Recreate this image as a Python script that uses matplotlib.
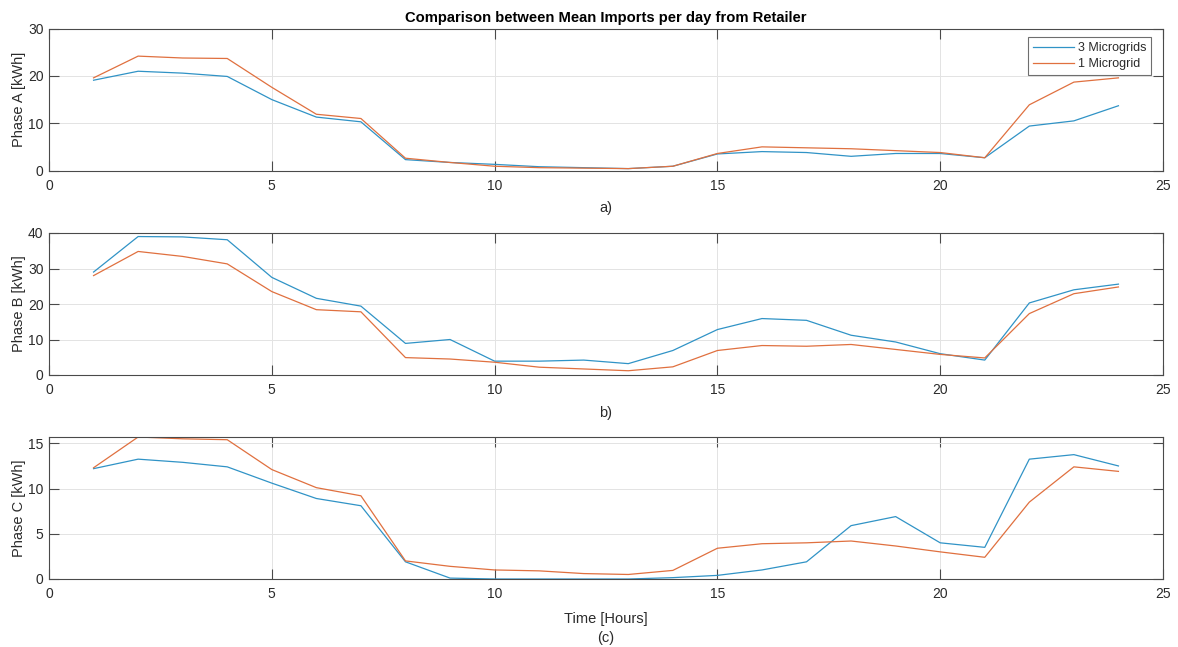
import numpy as np
import matplotlib
matplotlib.use("Agg")
import matplotlib.pyplot as plt

plt.rcParams["font.family"] = ["Liberation Sans", "DejaVu Sans"]

# Hours of the day
hours = np.arange(1, 25)

# Mean imports from retailer per hour [kWh]
phase_a_3mg = [19.1, 21.0, 20.6, 19.9, 15.0, 11.3, 10.3, 2.3, 1.7, 1.3, 0.8, 0.6,
               0.4, 0.9, 3.5, 4.0, 3.8, 3.0, 3.6, 3.6, 2.7, 9.4, 10.5, 13.7]
phase_a_1mg = [19.6, 24.2, 23.8, 23.7, 17.6, 11.9, 11.0, 2.6, 1.7, 0.9, 0.6, 0.5,
               0.4, 0.9, 3.6, 5.0, 4.8, 4.6, 4.2, 3.8, 2.7, 13.9, 18.7, 19.6]
phase_b_3mg = [29.0, 39.0, 38.9, 38.1, 27.5, 21.6, 19.4, 8.9, 10.0, 3.9, 3.9, 4.2,
               3.2, 6.9, 12.8, 15.9, 15.4, 11.2, 9.3, 6.0, 4.2, 20.3, 24.0, 25.6]
phase_b_1mg = [28.0, 34.8, 33.4, 31.3, 23.5, 18.4, 17.8, 4.9, 4.5, 3.6, 2.2, 1.7,
               1.2, 2.3, 6.9, 8.3, 8.1, 8.6, 7.2, 5.8, 4.8, 17.3, 22.9, 24.8]
phase_c_3mg = [12.2, 13.25, 12.9, 12.4, 10.6, 8.9, 8.1, 1.9, 0.1, 0.0, 0.0, 0.0,
               0.0, 0.15, 0.4, 1.0, 1.9, 5.9, 6.9, 4.0, 3.5, 13.25, 13.75, 12.5]
phase_c_1mg = [12.3, 15.7, 15.5, 15.4, 12.1, 10.1, 9.2, 2.0, 1.4, 1.0, 0.9, 0.6,
               0.5, 0.95, 3.4, 3.9, 4.0, 4.2, 3.65, 3.0, 2.4, 8.5, 12.4, 11.9]

series_labels = ["3 Microgrids", "1 Microgrid"]
phase_labels = ["Phase A [kWh]", "Phase B [kWh]", "Phase C [kWh]"]
panel_labels = ["a)", "b)", "Time [Hours]"]
y_limits = [(0, 30), (0, 40), (0, 15.7)]
y_ticks = [[0, 10, 20, 30], [0, 10, 20, 30, 40], [0, 5, 10, 15]]
x_ticks = [0, 5, 10, 15, 20, 25]

blue = "#3093c6"
orange = "#e0703f"
axis_col = "#4a4a4a"
text_col = "#2b2b2b"

W, H = 1178, 647
fig = plt.figure(figsize=(W / 100, H / 100), dpi=100)

# panel boxes in pixels: (top, bottom)
left_px, right_px = 49, 1163
boxes = [(28.7, 170.5), (233, 375), (437, 579)]

data = [(phase_a_3mg, phase_a_1mg), (phase_b_3mg, phase_b_1mg), (phase_c_3mg, phase_c_1mg)]

axes = []
for i, (top, bot) in enumerate(boxes):
    ax = fig.add_axes([left_px / W, 1 - bot / H, (right_px - left_px) / W, (bot - top) / H])
    s3, s1 = data[i]
    ax.plot(hours, s3, color=blue, lw=0.9, label=series_labels[0])
    ax.plot(hours, s1, color=orange, lw=0.9, label=series_labels[1])
    ax.set_xlim(0, 25)
    ax.set_ylim(*y_limits[i])
    ax.set_xticks(x_ticks)
    ax.set_yticks(y_ticks[i])
    ax.grid(True, color="#e3e3e3", lw=0.7)
    ax.set_axisbelow(True)
    for sp in ax.spines.values():
        sp.set_color(axis_col)
        sp.set_linewidth(0.8)
    ax.tick_params(direction="in", length=7.5, width=0.8, color=axis_col,
                   top=True, right=True, labelsize=10, labelcolor=text_col)
    ax.tick_params(axis="y", pad=4)
    ax.tick_params(axis="x", pad=6)
    ax.set_ylabel(phase_labels[i], fontsize=10.5, color=text_col, labelpad=1.5)
    axes.append(ax)

axes[0].set_xlabel(panel_labels[0], fontsize=10.5, color=text_col, labelpad=6)
axes[1].set_xlabel(panel_labels[1], fontsize=10.5, color=text_col, labelpad=6)
axes[2].set_xlabel(panel_labels[2], fontsize=10.5, color=text_col, labelpad=8)
fig.text(606 / W, 1 - 638 / H, "(c)", fontsize=10.5, color=text_col, ha="center", va="center")

axes[0].set_title("Comparison between Mean Imports per day from Retailer",
                  fontsize=10.6, fontweight="bold", color="black", pad=5)

leg = axes[0].legend(loc="upper right", bbox_to_anchor=(1151 / W, 1 - 37 / H),
                     bbox_transform=fig.transFigure, fontsize=9, frameon=True,
                     fancybox=False, edgecolor=axis_col, borderpad=0.4,
                     labelspacing=0.35, handlelength=3.3, handletextpad=0.3,
                     borderaxespad=0)
leg.get_frame().set_linewidth(0.8)
for t in leg.get_texts():
    t.set_color(text_col)

fig.savefig("out.png", dpi=100, facecolor="white")
